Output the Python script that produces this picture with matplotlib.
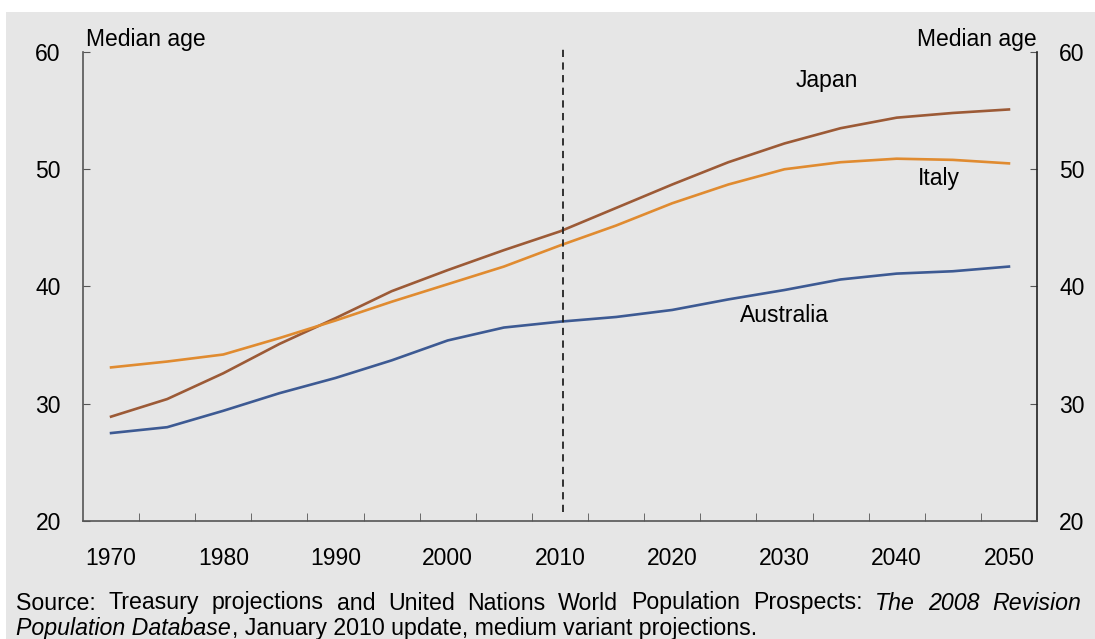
import numpy as np
import matplotlib
matplotlib.use("Agg")
from matplotlib import pyplot as plt
from matplotlib.patches import Rectangle

# median age, 5-year steps
years = list(range(1970, 2051, 5))
australia = [27.5, 28.0, 29.4, 30.9, 32.2, 33.7, 35.4, 36.5, 37.0, 37.4, 38.0, 38.9, 39.7, 40.6, 41.1, 41.3, 41.7]
japan = [28.9, 30.4, 32.6, 35.1, 37.3, 39.6, 41.4, 43.1, 44.7, 46.7, 48.7, 50.6, 52.2, 53.5, 54.4, 54.8, 55.1]
italy = [33.1, 33.6, 34.2, 35.6, 37.1, 38.7, 40.2, 41.7, 43.5, 45.2, 47.1, 48.7, 50.0, 50.6, 50.9, 50.8, 50.5]
year_labels = [1970, 1980, 1990, 2000, 2010, 2020, 2030, 2040, 2050]
y_ticks = [20, 30, 40, 50, 60]
projection_start = 2010.3

plt.rcParams['font.family'] = ['Liberation Sans', 'DejaVu Sans']
bg = '#e6e6e6'
fs = 16.5

fig = plt.figure(figsize=(10.95, 6.39), dpi=100)
fig.patch.set_facecolor('white')
fig.patches.append(Rectangle((6 / 1095, 0), 1, 1 - 12 / 639, transform=fig.transFigure,
                             facecolor=bg, edgecolor='none', zorder=-10))

ax = fig.add_axes([83 / 1095, 1 - 521 / 639, (1037 - 83) / 1095, (521 - 52) / 639])
ax.set_facecolor(bg)

ax.plot(years, japan, color='#9c5a36', lw=1.9)
ax.plot(years, italy, color='#e08b30', lw=1.9)
ax.plot(years, australia, color='#3d5a93', lw=1.9)

ax.axvline(projection_start, ymin=0.019, ymax=1.009, color='#222222', lw=1.3,
           ls=(0, (4, 3)), clip_on=False)

ax.set_xlim(1967.5, 2052.5)
ax.set_ylim(20, 60)
ax.set_xticks(year_labels)
ax.set_xticks(np.arange(1972.5, 2050, 5), minor=True)
ax.set_yticks(y_ticks)

ax.tick_params(axis='x', which='major', length=0, pad=19, labelsize=fs)
ax.tick_params(axis='x', which='minor', direction='in', length=6, color='#555555')
ax.tick_params(axis='y', direction='in', length=5, pad=16, labelsize=fs,
               left=True, right=True, labelleft=True, labelright=True, color='#555555')

for s in ['left', 'bottom']:
    ax.spines[s].set_color('#555555')
ax.spines['right'].set_color('#222222')
ax.spines['top'].set_visible(False)
for s in ax.spines.values():
    s.set_linewidth(1.2)

ax.text(0.003, 1.002, 'Median age', transform=ax.transAxes, fontsize=fs, ha='left', va='bottom')
ax.text(1.0, 1.002, 'Median age', transform=ax.transAxes, fontsize=fs, ha='right', va='bottom')

ax.text(2033.8, 57.6, 'Japan', fontsize=fs, ha='center', va='center')
ax.text(2043.8, 49.2, 'Italy', fontsize=fs, ha='center', va='center')
ax.text(2030.0, 37.5, 'Australia', fontsize=fs, ha='center', va='center')

# source note: first line justified, last word starts at x=992 px
renderer = fig.canvas.get_renderer()
words = [('Source:', 'normal'), ('Treasury', 'normal'), ('projections', 'normal'),
         ('and', 'normal'), ('United', 'normal'), ('Nations', 'normal'),
         ('World', 'normal'), ('Population', 'normal'), ('Prospects:', 'normal'),
         ('The', 'italic'), ('2008', 'italic'), ('Revision', 'italic')]
src_fs = 16.7
arts = [fig.text(0, 1 - 603 / 639, w, fontsize=src_fs, style=st, ha='left', va='center')
        for w, st in words]
widths = [a.get_window_extent(renderer).width for a in arts]
gap = (992 - 16 - sum(widths[:-1])) / (len(words) - 1)
x = 16
for a, w in zip(arts, widths):
    a.set_x(x / 1095)
    x += w + gap

t1 = fig.text(16 / 1095, 1 - 629 / 639, 'Population Database', fontsize=src_fs, style='italic',
              ha='left', va='center')
w1 = t1.get_window_extent(renderer).width
fig.text((16 + w1 + 1) / 1095, 1 - 629 / 639, ', January 2010 update, medium variant projections.',
         fontsize=src_fs, ha='left', va='center')

fig.savefig('out.png', dpi=100, facecolor=fig.get_facecolor())
